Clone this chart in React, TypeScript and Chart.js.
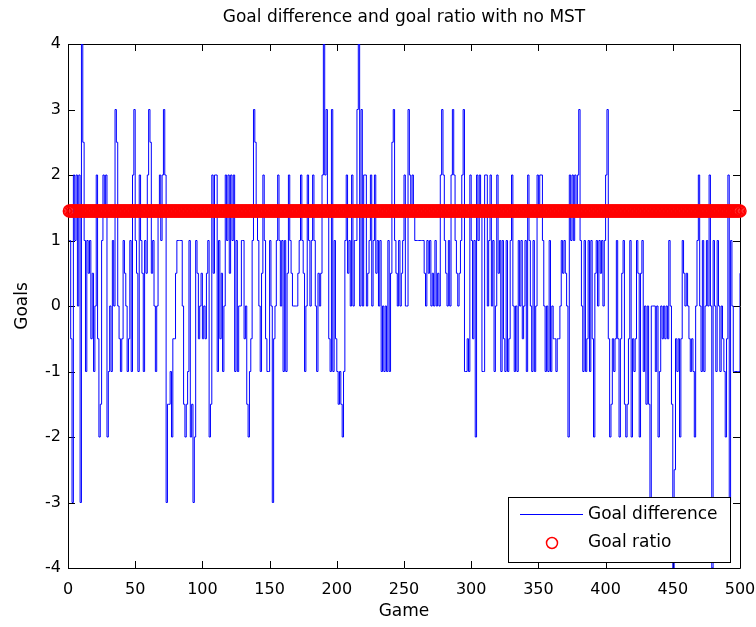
import React, { useEffect, useRef } from "react";
import { Chart, registerables } from "chart.js";

Chart.register(...registerables);

const TITLE = "Goal difference and goal ratio with no MST";
const X_LABEL = "Game";
const Y_LABEL = "Goals";
const SERIES_NAMES = ["Goal difference", "Goal ratio"];

const X_TICKS = [0, 50, 100, 150, 200, 250, 300, 350, 400, 450, 500];
const Y_TICKS = [-4, -3, -2, -1, 0, 1, 2, 3, 4];

const GOAL_RATIO_VALUE = 1.45;

const GOAL_DIFFERENCE: number[] = [
  1, -0.5, -3, 2, 1, 2, 0, 2, -3, 4,
  2.5, 1, -1, 1, 0.5, 1, -0.5, 0.5, -1, 0,
  2, -0.5, -2, -1.5, 1, 2, 1.5, 2, -2, -1,
  0, -1, 1, 0, 3, 2.5, 0, -0.5, -1, -0.5,
  1, 0.5, 0, -1, -0.5, 1, -1, 2, 3, 1,
  0.5, -1, 2, 1, 0.5, -1, 1, 0.5, 2, 3,
  2.5, 0.5, 1, 0, -1, 0, 1.5, 2, 1, 2,
  3, 2, -3, -1.5, -1.5, -1, -2, -0.5, -0.5, 0.5,
  1, 1, 1, 1, 0, -1.5, -2, -1.5, -1, 1,
  -2, -1.5, -3, -2, 1, 0.5, -0.5, 0, 0.5, -0.5,
  0, -0.5, 0.5, 1, -2, -1.5, 2, 0.5, 2, 2,
  -1, 1, -0.5, 0.5, -1, 0, 2, 1, 2, 0.5,
  2, 1, 2, -1, 1, -1, 0, 0, 1, 1,
  -0.5, 0, -1.5, -2, -1, -0.5, 1, 3, 2.5, 1.5,
  1, 0, -1, 0.5, 2, 1, -0.5, -1, -1, 1,
  0, -3, -0.5, 0, 1, 2, 1, 0, 1, -1,
  1, -1, 0.5, 2, 1, 0.5, 0, 0, 0, 0,
  0.5, 1, 2, 1, 0.5, -1, 0, 2, 1, 0,
  1, 2, 1, 0, -1, 0.5, 0, 0.5, 2, 4,
  2, 3, 1.5, -0.5, -1, 3, -1, 1, -0.5, -1,
  -1.5, -1, -1.5, -2, -1, 1, 2, 0.5, 1, 0,
  2, 0, 1, 1, 3, 4, 0, 3, 0, 2,
  2, 0, 0.5, 1, 2, 0, 1, 2, 0.5, 1,
  0, 1, -1, 0, -1, 0, -1, 1, -1, 0.5,
  2.5, 3, 1, 0.5, 0, 1, 0, 0.5, 1, 2,
  0, 0, 3, 2, 1.5, 2, 1.5, 1, 1, 1,
  1, 1, 1, 1, 0.5, 0, 1, 0.5, 1, 0,
  0.5, 0, 1, 0, 0.5, 0, 2, 3, 2, 1,
  0.5, 0, 1, 0, 2, 3, 2, 1, 0.5, 0,
  0.5, 1, 2, 3, -1, -1, -0.5, -1, 2, 1,
  -0.5, 1, -2, 2, 1, 2, 1.5, -1, -1, 2,
  2, 0, 1, 2, 0, 1, -1, 0, 2, 0.5,
  1, -1, 1, -0.5, -1, 1, -1, -0.5, 1, 2,
  0, -1, 0, -1, 1, 0, 1, -0.5, 0, 1,
  -1, 2, 1, 0, -1, 1, -1, 0, 2, 1.5,
  2, 2, 1, 0, -1, 0, -1, 1, -1, 0,
  -0.5, -0.5, -1, -0.5, -0.5, 0, 1, 0.5, 1, 0.5,
  0, -2, 2, 1, 2, 1, 2, 1.5, 2, 3,
  1, 0, -1, 1, -1, -0.5, 1, -1, 1, -0.5,
  -2, 0.5, 1, 0, 1, 0.5, 1, 0, 1, 2,
  3, -0.5, -2, -1.5, -0.5, -1, -0.5, 1, -0.5, -2,
  -0.5, 0.5, 1, -1.5, -2, -1.5, -0.5, 1, -2, -0.5,
  -1, -0.5, 1, 0.5, -2, 0.5, 1, -1, 0, -1.5,
  0, -1.5, -3, 0, 0, 0, -1, 0, -2, -1,
  0, -0.5, 0, -0.5, 0, -0.5, 1, 0, -1.5, -4,
  -2.5, -0.5, -1, -0.5, -2, -0.5, 1, 0.5, 0, 0.5,
  0, -0.5, -1, -0.5, -1, -2, 0, 1, 2, 0,
  -1, 1, -1, 0, 1, 0, 2, 0, -4, 1,
  0, -1, 1, 0, -1, 0, -0.5, -1, -2, -0.5,
  2, -3, 1, 0, -1, -1, -1, -1, -1, 0.5,
];

const FONT = '"DejaVu Sans", sans-serif';

export default function App() {
  const ref = useRef<HTMLCanvasElement | null>(null);

  useEffect(() => {
    document.body.style.margin = "0";
    const canvas = ref.current;
    if (!canvas) return;

    const games = GOAL_DIFFERENCE.map((_, i) => i + 1);
    const diffData = GOAL_DIFFERENCE.map((v, i) => ({ x: games[i], y: v }));
    const ratioData = games.map((g) => ({ x: g, y: GOAL_RATIO_VALUE }));

    const framePlugin = {
      id: "frame",
      beforeDatasetsDraw(chart: any) {
        const { ctx, chartArea } = chart;
        const { left, right, top, bottom } = chartArea;
        const xs = chart.scales.x;
        const ys = chart.scales.y;
        ctx.save();
        ctx.strokeStyle = "#000";
        ctx.lineWidth = 1;
        ctx.beginPath();
        ctx.rect(Math.round(left) + 0.5, Math.round(top) + 0.5, Math.round(right - left), Math.round(bottom - top));
        ctx.stroke();
        const tl = 7;
        ctx.beginPath();
        X_TICKS.forEach((v) => {
          const px = Math.round(xs.getPixelForValue(v)) + 0.5;
          ctx.moveTo(px, bottom);
          ctx.lineTo(px, bottom - tl);
          ctx.moveTo(px, top);
          ctx.lineTo(px, top + tl);
        });
        Y_TICKS.forEach((v) => {
          const py = Math.round(ys.getPixelForValue(v)) + 0.5;
          ctx.moveTo(left, py);
          ctx.lineTo(left + tl, py);
          ctx.moveTo(right, py);
          ctx.lineTo(right - tl, py);
        });
        ctx.stroke();
        ctx.restore();
      },
      afterDraw(chart: any) {
        const { ctx, chartArea } = chart;
        const { left, right, top, bottom } = chartArea;
        ctx.save();
        ctx.fillStyle = "#000";
        ctx.font = `17px ${FONT}`;
        ctx.textAlign = "center";
        ctx.textBaseline = "middle";
        ctx.fillText(TITLE, (left + right) / 2, 18);
        ctx.fillText(X_LABEL, (left + right) / 2, 612);
        ctx.save();
        ctx.translate(23, (top + bottom) / 2);
        ctx.rotate(-Math.PI / 2);
        ctx.fillText(Y_LABEL, 0, 0);
        ctx.restore();

        // legend
        const lx = 508, ly = 497, lw = 222, lh = 65;
        ctx.fillStyle = "#fff";
        ctx.fillRect(lx, ly, lw, lh);
        ctx.strokeStyle = "#000";
        ctx.lineWidth = 1;
        ctx.strokeRect(lx + 0.5, ly + 0.5, lw, lh);
        ctx.strokeStyle = "#0000ff";
        ctx.beginPath();
        ctx.moveTo(520, 514.5);
        ctx.lineTo(583, 514.5);
        ctx.stroke();
        ctx.strokeStyle = "#ff0000";
        ctx.lineWidth = 1.5;
        ctx.beginPath();
        ctx.arc(552, 543, 5.5, 0, Math.PI * 2);
        ctx.stroke();
        ctx.fillStyle = "#000";
        ctx.textAlign = "left";
        ctx.fillText(SERIES_NAMES[0], 588, 515);
        ctx.fillText(SERIES_NAMES[1], 588, 543);
        ctx.restore();
      },
    };

    const chart = new Chart(canvas, {
      type: "line",
      data: {
        datasets: [
          {
            label: SERIES_NAMES[0],
            data: diffData,
            borderColor: "#0000ff",
            borderWidth: 1,
            pointRadius: 0,
            stepped: "before",
            fill: false,
            tension: 0,
            order: 2,
          },
          {
            label: SERIES_NAMES[1],
            data: ratioData,
            showLine: false,
            pointRadius: 6,
            pointBorderColor: "#ff0000",
            pointBackgroundColor: "rgba(0,0,0,0)",
            pointBorderWidth: 1.5,
            clip: false,
            order: 1,
          } as any,
        ],
      },
      options: {
        animation: false,
        responsive: false,
        devicePixelRatio: 1,
        events: [],
        layout: { padding: { left: 0, right: 16, top: 44, bottom: 0 } },
        plugins: {
          legend: { display: false },
          title: { display: false },
          tooltip: { enabled: false },
        },
        scales: {
          x: {
            type: "linear",
            min: 0,
            max: 500,
            afterFit(s: any) {
              s.height = 59;
              s.paddingLeft = 0;
              s.paddingRight = 0;
            },
            afterBuildTicks(s: any) {
              s.ticks = X_TICKS.map((v) => ({ value: v }));
            },
            grid: { display: false, drawTicks: false },
            border: { display: false },
            ticks: {
              color: "#000",
              font: { family: FONT, size: 16 },
              padding: 12,
              maxRotation: 0,
              autoSkip: false,
            },
          },
          y: {
            type: "linear",
            min: -4,
            max: 4,
            afterFit(s: any) {
              s.width = 68;
              s.paddingTop = 0;
              s.paddingBottom = 0;
            },
            afterBuildTicks(s: any) {
              s.ticks = Y_TICKS.map((v) => ({ value: v }));
            },
            grid: { display: false, drawTicks: false },
            border: { display: false },
            ticks: {
              color: "#000",
              font: { family: FONT, size: 16 },
              padding: 7,
              autoSkip: false,
            },
          },
        },
      },
      plugins: [framePlugin],
    });

    return () => chart.destroy();
  }, []);

  return (
    <div style={{ width: 756, height: 627, position: "relative" }}>
      <canvas ref={ref} width={756} height={627} style={{ display: "block" }} />
    </div>
  );
}
